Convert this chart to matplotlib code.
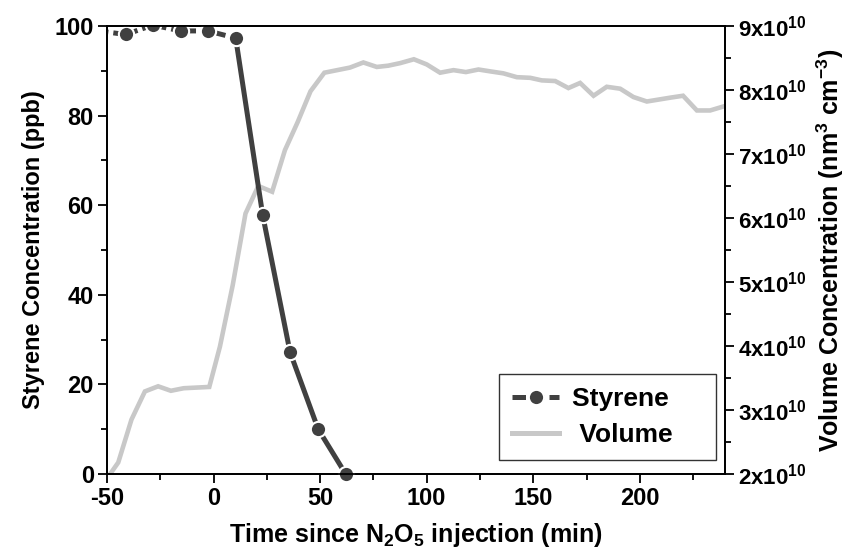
import matplotlib
matplotlib.use('Agg')
import matplotlib.pyplot as plt
from matplotlib.ticker import MultipleLocator, FixedLocator
from matplotlib.lines import Line2D

plt.rcParams['font.family'] = 'Liberation Sans'
plt.rcParams['font.weight'] = 'bold'
plt.rcParams['mathtext.fontset'] = 'custom'
plt.rcParams['mathtext.rm'] = 'Liberation Sans:bold'
plt.rcParams['mathtext.bf'] = 'Liberation Sans:bold'
plt.rcParams['mathtext.default'] = 'bf'
plt.rcParams['axes.unicode_minus'] = False

# styrene before injection (dashed) and after (solid)
sty_time_pre = [-54, -41.2, -28.5, -15.4, -2.6, 10.4]
sty_conc_pre = [98.9, 98.1, 100.2, 98.9, 98.9, 97.3]
sty_time_post = [10.4, 23.1, 35.9, 49.1, 62.0]
sty_conc_post = [97.3, 57.7, 27.2, 10.0, 0.0]

vol_time = [-48.5, -44.7, -38.5, -32.2, -26, -20, -14, -8, -2, 3, 9, 15, 21,
            27.5, 33.5, 39.5, 45.5, 52, 58, 64, 70.3, 76.6, 82, 87.6, 94, 100,
            106.3, 112.6, 118.4, 124.3, 130, 136, 142.3, 148.6, 154, 160.3,
            166.5, 172, 178.3, 184.5, 190.8, 197, 203.3, 208.8, 214.3, 220.3,
            226.8, 233, 240]
vol_conc = [2.00, 2.18, 2.85, 3.29, 3.37, 3.30, 3.34, 3.35, 3.36, 3.99, 4.95,
            6.07, 6.50, 6.41, 7.06, 7.50, 7.98, 8.27, 8.31, 8.35, 8.43, 8.36,
            8.38, 8.42, 8.48, 8.40, 8.27, 8.31, 8.28, 8.32, 8.29, 8.26, 8.20,
            8.19, 8.15, 8.14, 8.03, 8.11, 7.91, 8.05, 8.02, 7.89, 7.82, 7.85,
            7.88, 7.91, 7.68, 7.68, 7.75]  # x 1e10

vol_ticks = [2, 3, 4, 5, 6, 7, 8, 9]

dark = '#404040'
light = '#c8c8c8'

fig = plt.figure(figsize=(8.53, 5.6), dpi=100)
ax = fig.add_axes([0.1254, 0.1536, 0.7246, 0.8])
ax2 = ax.twinx()

ax2.plot(vol_time, vol_conc, color=light, lw=3.3, solid_joinstyle='miter')
ax.set_zorder(ax2.get_zorder() + 1)
ax.patch.set_visible(False)

ax.plot(sty_time_pre, sty_conc_pre, color=dark, lw=3.6, ls=(0, (2, 1)),
        marker='o', ms=11, mec='white', mew=1.5, clip_on=True)
ax.plot(sty_time_post, sty_conc_post, color=dark, lw=3.6, ls='-',
        marker='o', ms=11, mec='white', mew=1.5, clip_on=False)

ax.set_xlim(-50, 240)
ax.set_ylim(0, 100)
ax2.set_ylim(2, 9)

ax.xaxis.set_major_locator(MultipleLocator(50))
ax.xaxis.set_minor_locator(MultipleLocator(25))
ax.yaxis.set_major_locator(MultipleLocator(20))
ax.yaxis.set_minor_locator(MultipleLocator(10))
ax2.yaxis.set_major_locator(FixedLocator(vol_ticks))
ax2.yaxis.set_minor_locator(MultipleLocator(0.5))
ax2.set_yticklabels([f'{v}x10$^{{10}}$' for v in vol_ticks])

for a in (ax, ax2):
    for s in a.spines.values():
        s.set_linewidth(1.3)
    a.tick_params(which='major', direction='out', length=6.5, width=1.3,
                  labelsize=17, pad=3)
    a.tick_params(which='minor', direction='out', length=4, width=1.3)
ax2.tick_params(axis='y', labelsize=16)

ax.set_xlabel('Time since N$_2$O$_5$ injection (min)', fontsize=18,
              fontweight='bold', labelpad=8)
ax.set_ylabel('Styrene Concentration (ppb)', fontsize=17, fontweight='bold',
              labelpad=7)
ax2.set_ylabel('Volume Concentration (nm$^3$ cm$^{-3}$)', fontsize=18,
               fontweight='bold', labelpad=6)

handles = [Line2D([], [], color=dark, lw=3.6, ls=(0, (2.7, 1)), marker='o',
                  ms=11, mec='white', mew=1.5),
           Line2D([], [], color=light, lw=3.6)]
leg = ax.legend(handles, ['Styrene    ', ' Volume    '], loc='lower right',
                bbox_to_anchor=(0.985, 0.031), fontsize=19, frameon=True,
                fancybox=False, edgecolor='black', handlelength=1.8,
                handletextpad=0.5, borderpad=0.5, labelspacing=0.45,
                borderaxespad=0)
leg.get_frame().set_linewidth(1.0)

fig.savefig('out.png', dpi=100)
